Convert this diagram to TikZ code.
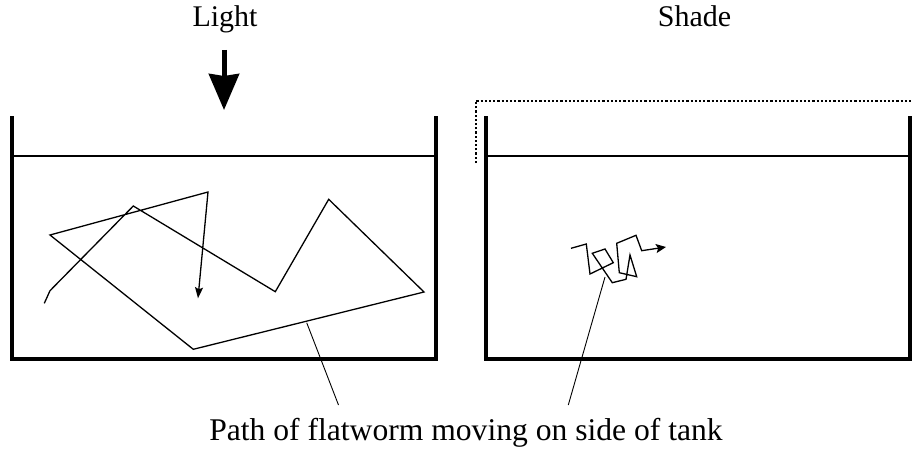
\documentclass[tikz,border=0pt]{standalone}
\usepackage{fontspec}
\setmainfont{Liberation Serif}
\usetikzlibrary{positioning,arrows.meta}

\begin{document}
\begin{tikzpicture}[x=1pt,y=-1pt,
  wall/.style={line width=4.8pt,line join=miter},
  water/.style={line width=1.8pt},
  trail/.style={line width=1.3pt,line join=miter},
  pointer/.style={line width=0.9pt},
  lbl/.style={font=\fontsize{30}{34}\selectfont,inner sep=0pt,anchor=base}]
\useasboundingbox (0,0) rectangle (913,452);
\node[lbl] (light) at (225,27) {Light};
\node[lbl] (shade) at (694.5,27) {Shade};
\node[lbl,font=\fontsize{31.6}{36}\selectfont] (caption) at (466,440) {Path of flatworm moving on side of tank};
\coordinate (beamtop) at (224,50);
\coordinate (beamend) at (224,110);
\draw[line width=5pt,-{Stealth[length=36pt,width=30pt,inset=2pt]}] (beamtop) -- (beamend);
% tanks
\draw[wall] (12,116) -- (12,359) -- (436,359) -- (436,116);
\draw[water] (14,156) -- (434,156);
\draw[wall] (486,116) -- (486,359) -- (910,359) -- (910,116);
\draw[water] (488,156) -- (908,156);
\draw[line width=2.2pt,dash pattern=on 2.2pt off 2pt] (475.7,163) -- (475.7,100.7) -- (913,100.7);
% worm paths
\draw[trail,-{Stealth[length=11pt,width=8pt,inset=2pt]}] (44.3,303.3) -- (50,290.7) -- (133.3,206) -- (275.3,291.7) -- (328.7,199.3) -- (424,292) -- (193.3,349.3) -- (50,235) -- (208,192) -- (198,298.3);
\draw[trail,-{Stealth[length=10pt,width=9pt,inset=2pt]}] (571,248.3) -- (586.3,244) -- (590,274) -- (613.3,262.7) -- (605,249) -- (592.3,253.3) -- (612.3,282.7) -- (626,279.3) -- (630,255) -- (636.7,276.7) -- (619.3,272.7) -- (616.7,243.3) -- (636,235.3) -- (641.7,250.7) -- (666,247);
\coordinate (onleft) at (306.7,322.7);
\coordinate (onright) at (605,277);
\coordinate (capleft) at (338.5,405);
\coordinate (capright) at (568.3,405);
\draw[pointer] (onleft) -- (capleft);
\draw[pointer] (onright) -- (capright);
\end{tikzpicture}
\end{document}
